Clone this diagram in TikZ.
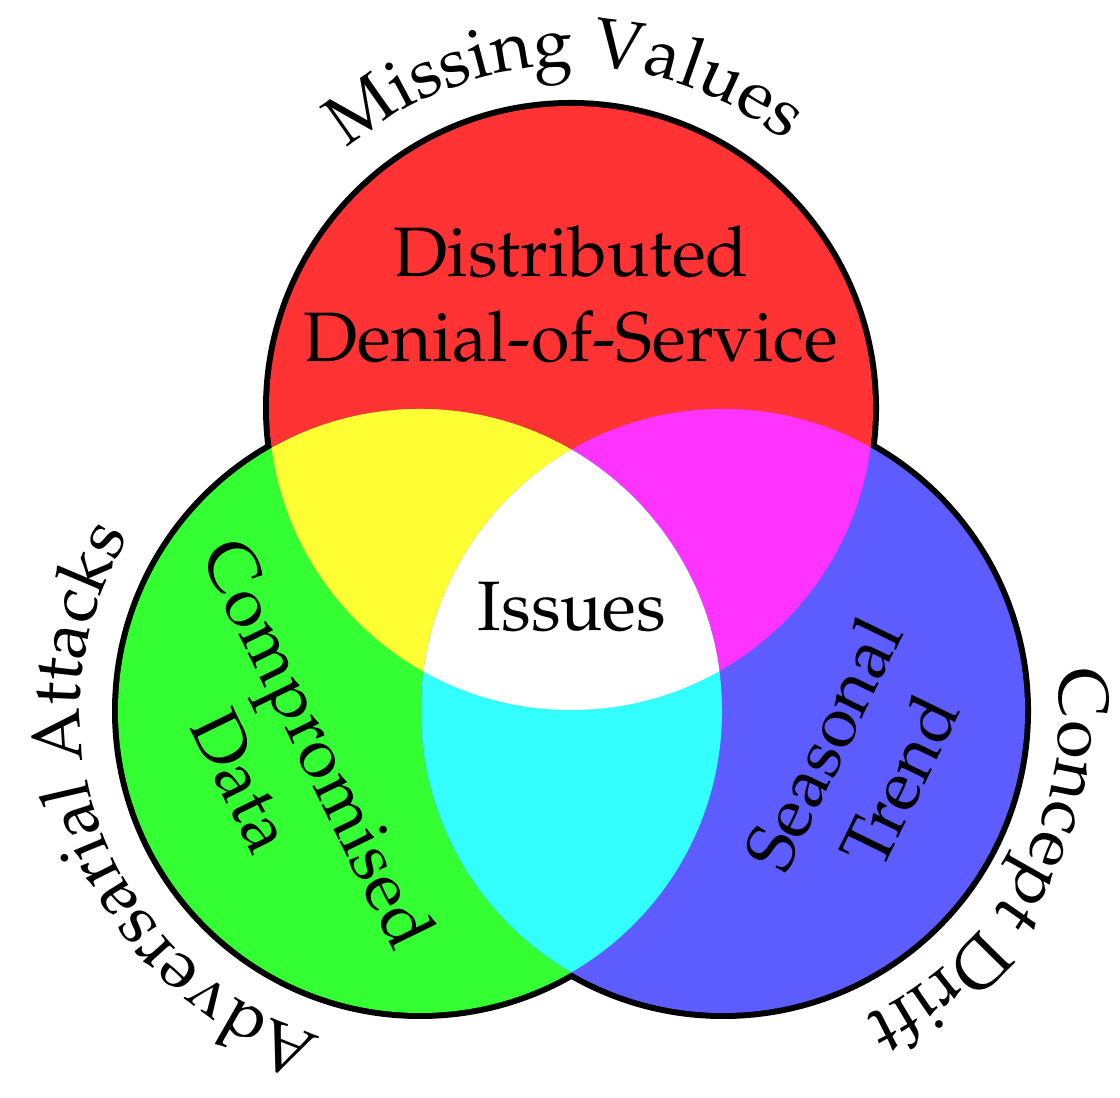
\documentclass[tikz,border=0pt]{standalone}
\usepackage[T1]{fontenc}
\usepackage{mathpazo}
\usepackage{xcolor}
\usetikzlibrary{positioning}
\usetikzlibrary{decorations.text}

\definecolor{redfill}{HTML}{FF3333}
\definecolor{greenfill}{HTML}{33FF33}
\definecolor{bluefill}{HTML}{5C5CFF}
\definecolor{yellowfill}{HTML}{FFFF33}
\definecolor{magentafill}{HTML}{FF33FF}
\definecolor{cyanfill}{HTML}{33FFFF}

\newcommand{\vennfont}{\fontsize{17.5}{21.25}\selectfont}

\tikzset{
  rim/.style={draw=black,line width=3pt},
  venntext/.style={font=\vennfont,align=center,inner sep=0pt},
  arclabel/.style={decorate,decoration={text along path,text align=center,text={|\vennfont|#1}}}
}

\begin{document}
\begin{tikzpicture}[x=0.25pt,y=0.25pt]
  \useasboundingbox (0,0) rectangle (1120,1098);
  \def\rad{302}

  \coordinate (ddos) at (571,690);
  \coordinate (comp) at (420,387);
  \coordinate (seas) at (723,387);

  % rims first, the fills hide their inner half
  \foreach \c in {ddos,comp,seas}
    \draw[rim] (\c) circle[radius=\rad];

  \fill[redfill]   (ddos) circle[radius=\rad];
  \fill[greenfill] (comp) circle[radius=\rad];
  \fill[bluefill]  (seas) circle[radius=\rad];

  \begin{scope}
    \clip (ddos) circle[radius=\rad];
    \fill[yellowfill]  (comp) circle[radius=\rad];
    \fill[magentafill] (seas) circle[radius=\rad];
  \end{scope}
  \begin{scope}
    \clip (comp) circle[radius=\rad];
    \fill[cyanfill] (seas) circle[radius=\rad];
  \end{scope}
  \begin{scope}
    \clip (ddos) circle[radius=\rad];
    \clip (comp) circle[radius=\rad];
    \fill[white] (seas) circle[radius=\rad];
  \end{scope}

  \node[venntext,anchor=base] (ddoslbl) at (571,736) {Distributed\\Denial-of-Service};
  \node[venntext,anchor=base] (issues) at (572,467) {Issues};
  \node[venntext,rotate=-64] (complbl) at (282,336) {Compromised\\Data};
  \node[venntext,rotate=64] (seaslbl) at (861,336) {Seasonal\\Trend};

  \path[arclabel=Missing Values] ([shift={(161:342)}]ddos) arc[start angle=161,end angle=21,radius=342];
  \path[arclabel=Adversarial Attacks] ([shift={(271:340)}]comp) arc[start angle=271,end angle=131,radius=340];
  \path[arclabel=Concept Drift] ([shift={(41:337)}]seas) arc[start angle=41,end angle=-99,radius=337];
\end{tikzpicture}
\end{document}
